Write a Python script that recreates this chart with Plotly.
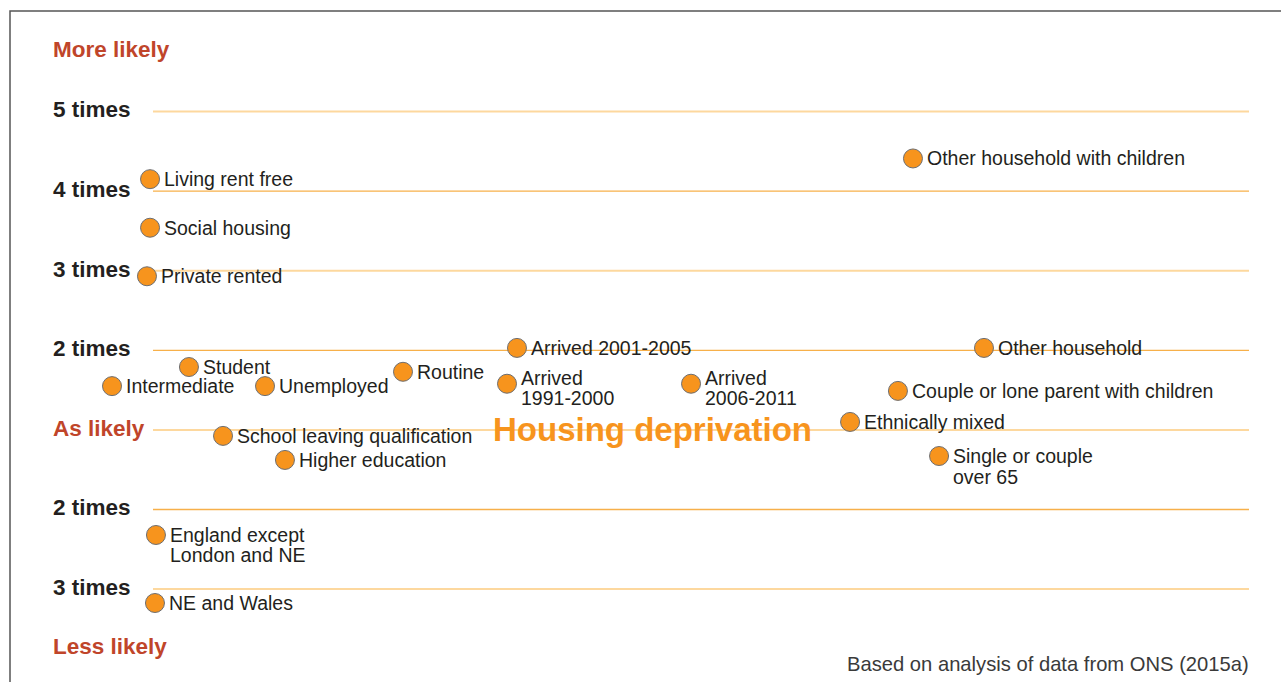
import plotly.graph_objects as go

# ---- data ----
labels = [
    "Living rent free", "Social housing", "Private rented",
    "Student", "Intermediate", "Unemployed", "Routine",
    "Arrived 2001-2005", "Arrived<br>1991-2000", "Arrived<br>2006-2011",
    "School leaving qualification", "Higher education",
    "Other household with children", "Other household",
    "Couple or lone parent with children", "Ethnically mixed",
    "Single or couple<br>over 65",
    "England except<br>London and NE", "NE and Wales",
]
# odds ratio of housing deprivation (1 = as likely)
odds_ratio = [
    4.15, 3.54, 2.93,
    1.79, 1.55, 1.55, 1.73,
    2.03, 1.58, 1.58,
    0.93, 0.726,
    4.41, 2.03,
    1.49, 1.10,
    0.753,
    0.431, 0.315,
]
# horizontal placement (arbitrary layout units 0-100)
x_pos = [
    -0.27, -0.27, -0.55,
    3.28, -3.74, 10.22, 22.81,
    33.21, 32.30, 49.09,
    6.39, 12.04,
    69.34, 75.82,
    67.97, 63.60,
    71.72,
    0.27, 0.18,
]
# vertical offset (px) of the first text line relative to the marker
first_line_shift = [0, 0, 0, 0, 0, 0, 0, 0, 6, 6, 0, 0, 0, 0, 0, 0, 0, 0, 0]

tick_ratio = [5, 4, 3, 2, 1, 0.5, 1 / 3]
tick_text = ["5 times", "4 times", "3 times", "2 times", "As likely", "2 times", "3 times"]


def to_pos(r):
    return r - 1 if r >= 1 else 1 - 1 / r


y_pos = [to_pos(r) for r in odds_ratio]
tick_pos = [to_pos(r) for r in tick_ratio]

ORANGE = "#F7941D"
RED = "#C0452A"
TEXT = "#231F20"
DARK_LINE = "#F7B04A"
LIGHT_LINE = "#FDD89E"
FONT = "Liberation Sans, Arial, Helvetica, sans-serif"

W, H = 1281, 682
PLOT_W = 1249            # plot area spans pixels 0..1249
GRID_START = 153 / PLOT_W
PX = 79.6
Y0 = 429.9
UNIT = 10.96             # px per x unit
X_MIN = -153 / UNIT

fig = go.Figure()
fig.add_trace(go.Scatter(
    x=x_pos, y=y_pos, mode="markers",
    marker=dict(size=19, color=ORANGE, line=dict(color="#6D6E71", width=1)),
    cliponaxis=False, hoverinfo="text", text=[l.replace("<br>", " ") for l in labels],
))

ann = []
for lab, x, y, s in zip(labels, x_pos, y_pos, first_line_shift):
    for i, line in enumerate(lab.split("<br>")):
        ann.append(dict(x=x, y=y, xref="x", yref="y", text=line, showarrow=False,
                        xanchor="left", yanchor="middle", xshift=12, yshift=s - 20.5 * i,
                        font=dict(family=FONT, size=19.5, color=TEXT)))

LBL_X = 51 / PLOT_W
for p, t in zip(tick_pos, tick_text):
    ann.append(dict(x=LBL_X, xref="paper", y=p + 0.02, yref="y", text="<b>%s</b>" % t,
                    showarrow=False, xanchor="left", yanchor="middle",
                    font=dict(family=FONT, size=22.5, color=RED if t == "As likely" else TEXT)))

ann.append(dict(x=LBL_X, xref="paper", y=4.773, yref="y", text="<b>More likely</b>",
                showarrow=False, xanchor="left", yanchor="middle",
                font=dict(family=FONT, size=22.5, color=RED)))
ann.append(dict(x=LBL_X, xref="paper", y=-2.727, yref="y", text="<b>Less likely</b>",
                showarrow=False, xanchor="left", yanchor="middle",
                font=dict(family=FONT, size=22.5, color=RED)))
ann.append(dict(x=45.53, y=0, xref="x", yref="y", text="<b>Housing deprivation</b>",
                showarrow=False, xanchor="center", yanchor="middle",
                font=dict(family=FONT, size=33, color=ORANGE)))
ann.append(dict(x=1.0, xref="paper", y=1 - 664 / H, yref="paper",
                text="Based on analysis of data from ONS (2015a)", showarrow=False,
                xanchor="right", yanchor="middle", xshift=2,
                font=dict(family=FONT, size=20.2, color="#3A3A3A")))

shapes = [dict(type="rect", xref="paper", yref="paper",
               x0=10 / PLOT_W, x1=1.2, y0=-0.2, y1=1 - 11 / H,
               line=dict(color="#555555", width=1.5), fillcolor="rgba(0,0,0,0)", layer="below")]
for i, p in enumerate(tick_pos):
    light = i % 2 == 0
    shapes.append(dict(type="line", xref="paper", yref="y", x0=GRID_START, x1=1, y0=p, y1=p,
                       line=dict(color=LIGHT_LINE if light else DARK_LINE, width=2 if light else 1.3),
                       layer="below"))

fig.update_layout(
    width=W, height=H,
    margin=dict(l=0, r=W - PLOT_W, t=0, b=0),
    paper_bgcolor="white", plot_bgcolor="rgba(0,0,0,0)",
    showlegend=False,
    annotations=ann,
    shapes=shapes,
    xaxis=dict(range=[X_MIN, 100], visible=False, fixedrange=True),
    yaxis=dict(range=[(Y0 - H) / PX, Y0 / PX], visible=False, fixedrange=True),
)

fig.write_html("out.html", config={"displayModeBar": False},
               post_script="document.body.style.margin='0';document.body.style.overflow='hidden';")
